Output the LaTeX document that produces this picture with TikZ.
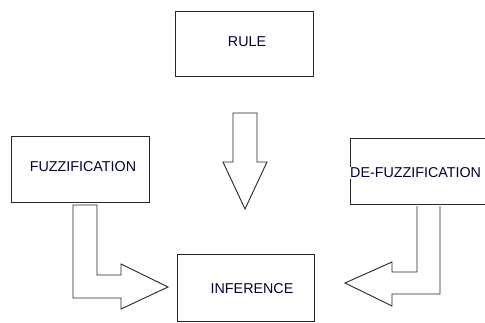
\documentclass[tikz,border=0pt]{standalone}
\usepackage{fontspec}
\setmainfont{Liberation Sans}
\begin{document}
\begin{tikzpicture}[x=1pt,y=-1pt,
  boxstyle/.style={draw=black!85,line width=1pt,minimum width=#1,inner sep=0pt},
  lbl/.style={font=\fontsize{14.3}{16}\selectfont,text=black!80!blue,inner sep=0pt},
  blockarrow/.style={draw=black!85,line width=0.9pt,line join=miter,fill=white}]
\useasboundingbox (0,0) rectangle (485,322);
\clip (0,0) rectangle (485,322);
% boxes
\node[boxstyle=138pt,minimum height=65pt] (rule) at (244,43.5) {};
\node[lbl] (ruleT) at (247,42) {RULE};
\node[boxstyle=138pt,minimum height=66pt] (fuzz) at (80,169) {};
\node[lbl] (fuzzT) at (83,167) {FUZZIFICATION};
\node[boxstyle=137pt,minimum height=67pt] (inf) at (245.5,287.5) {};
\node[lbl] (infT) at (252,289) {INFERENCE};
\node[boxstyle=150pt,minimum height=66pt] (defuzz) at (425,171) {};
\node[lbl,fill=white,inner sep=1pt,anchor=west] (defuzzT) at (349,173) {DE-FUZZIFICATION};
% block arrows
\draw[blockarrow] (233,113) -- (257,113) -- (257,162) -- (267,162) -- (245,209)
  -- (223,162) -- (233,162) -- cycle;
\draw[blockarrow] (73,205) -- (97,205) -- (97,275) -- (121,275) -- (121,264)
  -- (168,287) -- (121,309) -- (121,298) -- (73,298) -- cycle;
\draw[blockarrow] (417,206) -- (417,272) -- (392,272) -- (392,262) -- (345,283)
  -- (392,306) -- (392,294) -- (440,294) -- (440,206);
\end{tikzpicture}
\end{document}
